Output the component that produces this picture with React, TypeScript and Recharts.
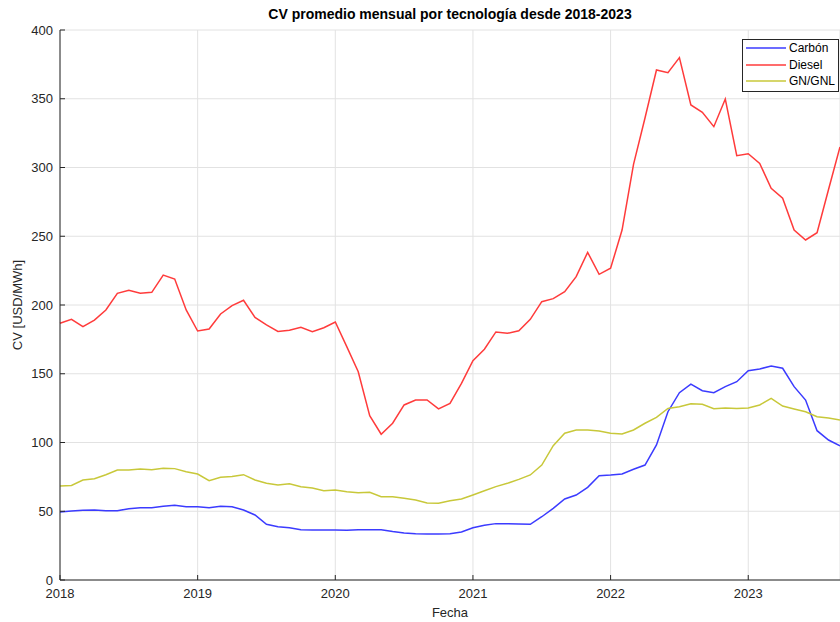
import { LineChart, Line, XAxis, YAxis, CartesianGrid, Legend } from 'recharts';

const startYear = 2018;
const yearTicks = [2018, 2019, 2020, 2021, 2022, 2023];
const valueTicks = [0, 50, 100, 150, 200, 250, 300, 350, 400];

// monthly values, Jan 2018 .. Sep 2023
const carbon = [
  49.5, 50.2, 50.7, 50.9, 50.4, 50.4, 51.9, 52.6, 52.6, 53.6, 54.3, 53.3,
  53.3, 52.6, 53.6, 53.3, 50.9, 47.3, 40.5, 38.8, 38, 36.6, 36.4, 36.4,
  36.4, 36.1, 36.6, 36.6, 36.6, 35.2, 34.2, 33.7, 33.5, 33.5, 33.7, 34.9,
  38, 39.8, 41, 41, 40.7, 40.5, 46, 52.1, 58.9, 61.8, 67.4, 75.9,
  76.4, 77.1, 80.5, 83.6, 98.2, 122.4, 136.2, 142.5, 137.7, 136.2, 140.6, 144.2,
  152.2, 153.5, 155.6, 154, 140.6, 130.9, 108.6, 101.8, 97.5,
];

const diesel = [
  186.7, 189.6, 184.2, 189, 196.4, 208.5, 210.7, 208.5, 209.2, 221.8, 218.9, 196.4,
  181.1, 182.5, 193.5, 199.5, 203.4, 191, 185.5, 180.8, 181.6, 183.8, 180.6, 183.5,
  187.6, 169.7, 151.5, 119.5, 106, 114, 127.3, 130.9, 130.9, 124.4, 128.5, 143,
  159.5, 167.8, 180.4, 179.4, 181.3, 189.6, 202.4, 204.6, 209.7, 220.6, 238.3, 222.3,
  226.7, 254.5, 302.3, 336, 370.9, 369, 379.9, 345.5, 340.1, 329.7, 349.8, 308.6,
  310, 303, 284.8, 277.6, 254.5, 247.3, 252.6, 284, 315,
];

const gas = [
  68.4, 68.8, 72.7, 73.7, 76.6, 80, 80, 80.7, 80.2, 81.2, 81, 78.8,
  77.1, 72.2, 74.7, 75.2, 76.6, 72.7, 70.3, 69.1, 70, 67.9, 66.9, 64.9,
  65.5, 64.2, 63.5, 63.8, 60.6, 60.6, 59.4, 58.2, 56, 55.8, 57.7, 58.9,
  61.8, 64.9, 67.9, 70.3, 73.2, 76.4, 83.6, 97.7, 106.7, 109.1, 109.1, 108.4,
  106.7, 106.2, 109.1, 114, 118.3, 124.8, 126, 128.2, 127.8, 124.6, 125.1, 124.8,
  125.1, 127.3, 132.1, 126.5, 124.4, 122.4, 118.8, 117.8, 116.4,
];

const rows = diesel.map((_, i) => ({
  t: startYear + i / 12,
  carbon: carbon[i],
  diesel: diesel[i],
  gas: gas[i],
}));

const xDomain = [startYear, startYear + (diesel.length - 1) / 12];
const axisColor = '#262626';
const font = '"Liberation Sans", Arial, Helvetica, sans-serif';

function LegendBox({ payload }: any) {
  return (
    <div
      style={{
        border: `1px solid ${axisColor}`,
        background: '#fff',
        width: 95,
        height: 51,
        boxSizing: 'content-box',
        fontFamily: font,
        fontSize: 12,
        color: '#000',
      }}
    >
      {(payload || []).map((p: any) => (
        <div key={p.value} style={{ display: 'flex', alignItems: 'center', height: 16.5 }}>
          <svg width={46} height={10} style={{ flex: 'none' }}>
            <line x1={3} x2={43} y1={5} y2={5} stroke={p.color} strokeWidth={1.5} />
          </svg>
          <span>{p.value}</span>
        </div>
      ))}
    </div>
  );
}

export default function App() {
  return (
    <div
      style={{
        position: 'absolute',
        left: 0,
        top: 0,
        width: 840,
        height: 622,
        overflow: 'hidden',
        background: '#fff',
        fontFamily: font,
      }}
    >
      <LineChart width={840} height={622} data={rows} margin={{ top: 30, right: 0, bottom: 0, left: 0 }}>
        <CartesianGrid stroke="#e2e2e2" strokeWidth={1} />
        <XAxis
          dataKey="t"
          type="number"
          domain={xDomain}
          ticks={yearTicks}
          height={42}
          tickSize={-5}
          tickMargin={14}
          stroke={axisColor}
          tick={{ fill: axisColor, fontSize: 13 }}
        />
        <XAxis
          xAxisId="top"
          orientation="top"
          dataKey="t"
          type="number"
          domain={xDomain}
          ticks={yearTicks}
          height={0}
          tickSize={-5}
          tick={false}
          stroke={axisColor}
        />
        <YAxis
          domain={[0, 400]}
          ticks={valueTicks}
          width={60}
          tickSize={-5}
          tickMargin={12}
          stroke={axisColor}
          tick={{ fill: axisColor, fontSize: 13 }}
        />
        <Legend
          layout="horizontal"
          verticalAlign="middle"
          align="center"
          content={<LegendBox />}
          wrapperStyle={{ position: 'absolute', left: 742, top: 39, width: 97 }}
        />
        <Line type="linear" dataKey="carbon" name="Carbón" stroke="#3b3bff" strokeWidth={1.5} dot={false} isAnimationActive={false} />
        <Line type="linear" dataKey="diesel" name="Diesel" stroke="#ff3b3b" strokeWidth={1.5} dot={false} isAnimationActive={false} />
        <Line type="linear" dataKey="gas" name="GN/GNL" stroke="#c8c83a" strokeWidth={1.5} dot={false} isAnimationActive={false} />
      </LineChart>
      <div
        style={{
          position: 'absolute',
          left: 60,
          width: 780,
          top: 6,
          textAlign: 'center',
          fontWeight: 'bold',
          fontSize: 14,
          color: '#000',
        }}
      >
        CV promedio mensual por tecnología desde 2018-2023
      </div>
      <div
        style={{
          position: 'absolute',
          left: 60,
          width: 780,
          top: 605,
          textAlign: 'center',
          fontSize: 13,
          color: axisColor,
        }}
      >
        Fecha
      </div>
      <div
        style={{
          position: 'absolute',
          left: 17,
          top: 305,
          transform: 'translate(-50%, -50%) rotate(-90deg)',
          whiteSpace: 'nowrap',
          fontSize: 13,
          color: axisColor,
        }}
      >
        CV [USD/MWh]
      </div>
    </div>
  );
}
